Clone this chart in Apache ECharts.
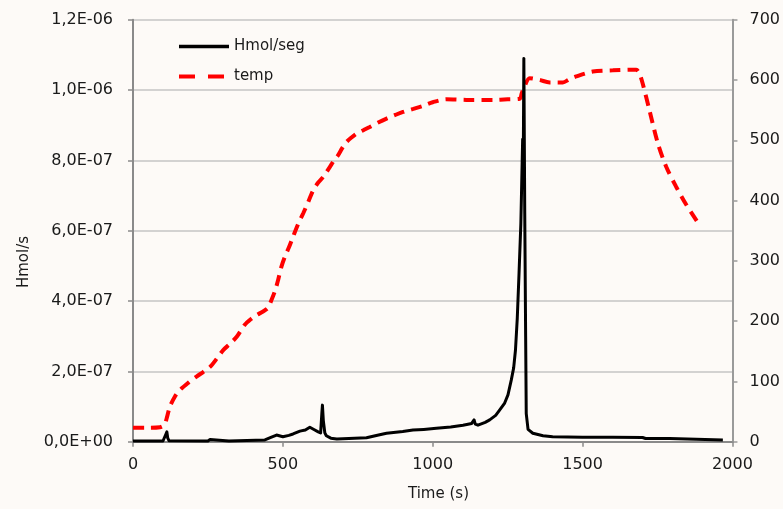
<!DOCTYPE html>
<html>
<head>
<meta charset="utf-8">
<script src="https://cdn.jsdelivr.net/npm/echarts@6/dist/echarts.min.js"></script>
<style>
  html, body { margin: 0; padding: 0; background: #fdfaf7; }
  #chart { width: 783px; height: 509px; }
</style>
</head>
<body>
<div id="chart"></div>
<script>
// Hydrogen release rate (mol/s, stored in units of 1e-7) versus time (s)
const H_UNIT = 1e-7;
const hmolTime = [0, 100, 106, 110, 113, 116, 120, 250, 257, 262, 320, 440, 460, 479, 500, 520, 534, 557, 575, 590,
  605, 618, 626, 630, 632, 635, 640, 645, 660, 680, 720, 779, 823, 846, 900, 934, 970, 1012, 1060, 1101,
  1130, 1138, 1142, 1151, 1175, 1190, 1210, 1223, 1240, 1251, 1262, 1270, 1276, 1282, 1288, 1294, 1300, 1302, 1304, 1307,
  1310, 1312, 1318, 1334, 1368, 1400, 1500, 1600, 1700, 1710, 1790, 1796, 1968];
const hmolValue = [0.02, 0.02, 0.05, 0.22, 0.28, 0.10, 0.03, 0.02, 0.06, 0.02, 0.02, 0.05, 0.12, 0.19, 0.14, 0.18, 0.22, 0.30, 0.33, 0.41,
  0.34, 0.28, 0.25, 0.80, 1.04, 0.60, 0.25, 0.17, 0.10, 0.08, 0.09, 0.11, 0.20, 0.24, 0.29, 0.33, 0.35, 0.38, 0.42, 0.47,
  0.52, 0.62, 0.50, 0.47, 0.55, 0.62, 0.75, 0.90, 1.10, 1.33, 1.75, 2.10, 2.60, 3.50, 4.80, 6.20, 8.60, 7.80, 10.9, 6.50,
  3.00, 0.80, 0.35, 0.24, 0.17, 0.14, 0.13, 0.13, 0.12, 0.09, 0.09, 0.05, 0.05];

// Sample temperature (right axis) versus time (s)
const tempTime = [0, 40, 90, 105, 112, 123, 140, 157, 185, 212, 235, 257, 280, 301, 325, 346, 373, 395, 412, 434,
  450, 462, 475, 484, 495, 507, 520, 534, 550, 568, 585, 601, 618, 634, 657, 670, 684, 698, 712, 730,
  746, 770, 790, 820, 846, 875, 901, 935, 968, 1000, 1046, 1112, 1201, 1250, 1290, 1297, 1307, 1323, 1357, 1390,
  1434, 1455, 1479, 1534, 1601, 1679, 1690, 1700, 1723, 1751, 1779, 1812, 1846, 1884];
const tempValue = [23, 23, 24, 28, 38, 58, 75, 86, 98, 108, 116, 124, 138, 152, 163, 174, 194, 204, 210, 216,
  222, 235, 252, 268, 290, 307, 322, 340, 360, 379, 398, 417, 430, 439, 456, 466, 475, 487, 497, 505,
  511, 517, 522, 530, 536, 542, 547, 552, 557, 563, 568, 567, 567, 568, 569, 578, 590, 603, 600, 596,
  596, 601, 606, 614, 616, 617, 610, 595, 550, 495, 456, 423, 393, 364];

// Axis tick labels
const leftTickLabels = ['0,0E+00', '2,0E-07', '4,0E-07', '6,0E-07', '8,0E-07', '1,0E-06', '1,2E-06'];
const rightTickLabels = ['0', '100', '200', '300', '400', '500', '600', '700'];
const timeTickLabels = ['0', '500', '1000', '1500', '2000'];

const seriesNames = ['Hmol/seg', 'temp'];

const hmolData = hmolTime.map((t, i) => [t, hmolValue[i] * H_UNIT]);
const tempData = tempTime.map((t, i) => [t, tempValue[i]]);

const font = 'DejaVu Sans';
const textColor = '#1a1a1a';

const chart = echarts.init(document.getElementById('chart'), null, { renderer: 'canvas' });
chart.setOption({
  backgroundColor: '#fdfaf7',
  animation: false,
  textStyle: { fontFamily: font },
  grid: { left: 133, right: 50, top: 19.7, bottom: 67.3 },
  legend: {
    show: true,
    orient: 'vertical',
    left: 172,
    top: 34,
    itemWidth: 50,
    itemHeight: 18,
    itemGap: 15,
    // line-only keys: hide the point marker drawn in the middle
    itemStyle: { opacity: 0 },
    textStyle: { fontFamily: font, fontSize: 15, color: textColor },
    data: [
      { name: seriesNames[0], lineStyle: { width: 3.5, color: '#000000' } },
      { name: seriesNames[1], lineStyle: { width: 4, color: '#ff0000', type: [16, 13] } }
    ]
  },
  xAxis: {
    type: 'value',
    min: 0, max: 2000, interval: 500,
    axisLine: { show: true, lineStyle: { color: '#8a8a8a', width: 2 } },
    axisTick: { show: true, inside: false, length: 5, lineStyle: { color: '#8a8a8a', width: 1.5 } },
    axisLabel: { margin: 15, fontSize: 16, color: textColor, fontFamily: font,
      formatter: v => timeTickLabels[Math.round(v / 500)] },
    splitLine: { show: false }
  },
  yAxis: [
    {
      type: 'value',
      min: 0, max: 1.2e-6, interval: 2e-7,
      axisLine: { show: true, lineStyle: { color: '#8a8a8a', width: 2 } },
      axisTick: { show: true, length: 5, lineStyle: { color: '#8a8a8a', width: 1.5 } },
      axisLabel: { margin: 20, fontSize: 16, color: textColor, fontFamily: font,
        formatter: v => leftTickLabels[Math.round(v / 2e-7)] },
      splitLine: { show: true, lineStyle: { color: '#c4c4c4', width: 1.5 } }
    },
    {
      type: 'value',
      min: 0, max: 700, interval: 100,
      position: 'right',
      axisLine: { show: true, lineStyle: { color: '#9a9a9a', width: 2 } },
      axisTick: { show: true, length: 5, lineStyle: { color: '#9a9a9a', width: 1.5 } },
      axisLabel: { margin: 17, fontSize: 16, color: textColor, fontFamily: font,
        formatter: v => rightTickLabels[Math.round(v / 100)] },
      splitLine: { show: false }
    }
  ],
  graphic: [
    { type: 'text', left: 17, top: 236, rotation: Math.PI / 2,
      style: { text: 'Hmol/s', font: '15px "DejaVu Sans"', fill: textColor } },
    { type: 'text', left: 408, top: 487,
      style: { text: 'Time (s)', font: '15px "DejaVu Sans"', fill: textColor } }
  ],
  series: [
    {
      name: seriesNames[0],
      type: 'line',
      yAxisIndex: 0,
      data: hmolData,
      symbol: 'none',
      lineStyle: { color: '#000000', width: 3, join: 'round' },
      itemStyle: { color: '#000000' },
      z: 3
    },
    {
      name: seriesNames[1],
      type: 'line',
      yAxisIndex: 1,
      data: tempData,
      symbol: 'none',
      smooth: 0.3,
      lineStyle: { color: '#ff0000', width: 4, type: [11, 7] },
      itemStyle: { color: '#ff0000' },
      z: 2
    }
  ]
});
</script>
</body>
</html>
